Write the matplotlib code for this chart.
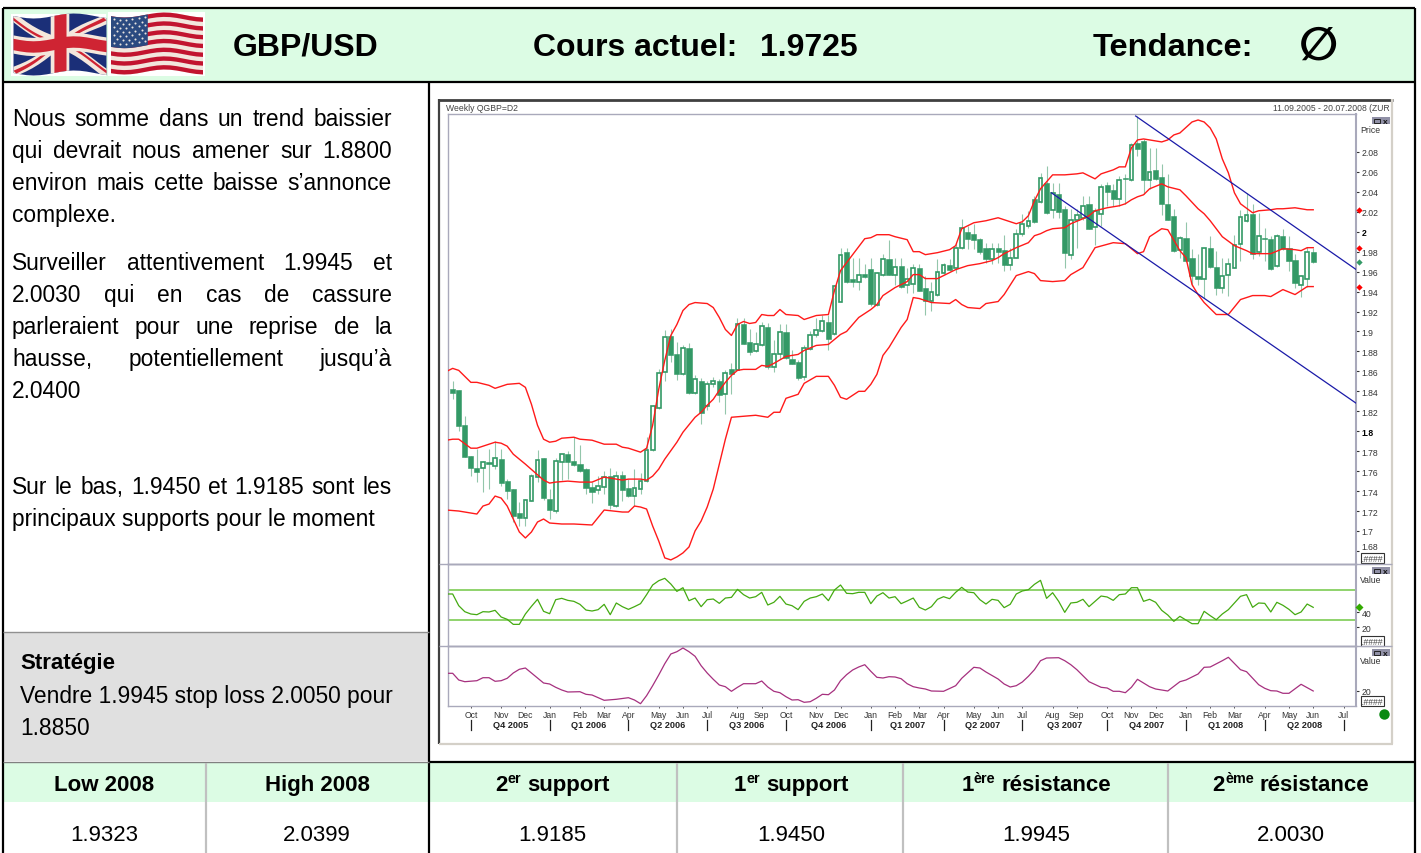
import matplotlib
matplotlib.use('Agg')
import matplotlib.pyplot as plt
from matplotlib.patches import Polygon, Rectangle
import numpy as np

plt.rcParams['font.family'] = ['Liberation Sans', 'DejaVu Sans']

W, H = 1421, 854

# Weekly candles, 11.09.2005 - 20.07.2008
opens = [
    1.842, 1.841, 1.806, 1.775, 1.763, 1.763, 1.769, 1.765, 1.772, 1.750,
    1.742, 1.718, 1.713, 1.730, 1.754, 1.773, 1.732, 1.720, 1.769, 1.777,
    1.770, 1.767, 1.762, 1.744, 1.741, 1.744, 1.755, 1.725, 1.756, 1.743,
    1.735, 1.742, 1.750, 1.781, 1.823, 1.859, 1.895, 1.877, 1.857, 1.883,
    1.838, 1.850, 1.825, 1.847, 1.850, 1.837, 1.862, 1.861, 1.907, 1.889,
    1.880, 1.886, 1.904, 1.864, 1.877, 1.899, 1.872, 1.869, 1.854, 1.882,
    1.896, 1.900, 1.909, 1.897, 1.930, 1.980, 1.953, 1.950, 1.958, 1.963,
    1.927, 1.957, 1.973, 1.957, 1.966, 1.947, 1.948, 1.964, 1.944, 1.931,
    1.937, 1.959, 1.967, 1.964, 1.984, 2.000, 1.998, 1.993, 1.984, 1.973,
    1.984, 1.982, 1.967, 1.974, 1.998, 2.006, 2.033, 2.030, 2.049, 2.022,
    2.038, 2.023, 1.977, 2.012, 2.014, 2.028, 2.005, 2.018, 2.047, 2.042,
    2.033, 2.054, 2.052, 2.089, 2.091, 2.052, 2.062, 2.055, 2.028, 2.016,
    1.982, 1.994, 1.974, 1.956, 1.953, 1.984, 1.965, 1.944, 1.957, 1.964,
    1.988, 2.011, 2.018, 1.980, 1.994, 1.993, 1.966, 1.996, 1.984, 1.972,
    1.947, 1.953, 1.980]
closes = [
    1.838, 1.805, 1.774, 1.763, 1.759, 1.769, 1.767, 1.773, 1.748, 1.740,
    1.715, 1.713, 1.731, 1.755, 1.771, 1.733, 1.721, 1.770, 1.777, 1.769,
    1.766, 1.760, 1.743, 1.739, 1.745, 1.754, 1.726, 1.755, 1.741, 1.735,
    1.743, 1.750, 1.781, 1.825, 1.858, 1.894, 1.876, 1.857, 1.883, 1.838,
    1.852, 1.818, 1.847, 1.850, 1.836, 1.858, 1.857, 1.907, 1.887, 1.879,
    1.887, 1.905, 1.864, 1.877, 1.899, 1.873, 1.867, 1.853, 1.883, 1.896,
    1.901, 1.910, 1.892, 1.946, 1.977, 1.950, 1.950, 1.957, 1.955, 1.928,
    1.959, 1.973, 1.957, 1.965, 1.945, 1.953, 1.964, 1.941, 1.931, 1.940,
    1.960, 1.967, 1.962, 1.984, 2.004, 1.993, 1.992, 1.980, 1.973, 1.983,
    1.980, 1.967, 1.974, 1.998, 2.008, 2.011, 2.010, 2.054, 2.019, 2.039,
    2.020, 1.979, 2.012, 2.017, 2.026, 2.003, 2.021, 2.045, 2.040, 2.033,
    2.052, 2.053, 2.087, 2.083, 2.052, 2.060, 2.053, 2.028, 2.012, 1.981,
    1.994, 1.971, 1.956, 1.953, 1.984, 1.965, 1.944, 1.956, 1.968, 1.987,
    2.015, 2.017, 1.978, 1.996, 1.993, 1.963, 1.996, 1.983, 1.971, 1.949,
    1.956, 1.980, 1.970]
highs = [
    1.850, 1.841, 1.815, 1.775, 1.782, 1.770, 1.782, 1.790, 1.782, 1.752,
    1.742, 1.729, 1.732, 1.757, 1.781, 1.773, 1.742, 1.773, 1.777, 1.780,
    1.794, 1.786, 1.763, 1.749, 1.755, 1.760, 1.763, 1.760, 1.760, 1.752,
    1.762, 1.758, 1.794, 1.826, 1.862, 1.901, 1.902, 1.889, 1.886, 1.888,
    1.856, 1.853, 1.850, 1.854, 1.852, 1.861, 1.868, 1.913, 1.914, 1.902,
    1.899, 1.909, 1.908, 1.891, 1.907, 1.907, 1.881, 1.871, 1.886, 1.900,
    1.914, 1.917, 1.917, 1.947, 1.984, 1.984, 1.974, 1.974, 1.968, 1.974,
    1.960, 1.978, 1.992, 1.974, 1.974, 1.964, 1.968, 1.968, 1.956, 1.950,
    1.973, 1.969, 1.973, 1.989, 2.013, 2.006, 2.008, 1.994, 1.989, 1.989,
    1.989, 1.997, 1.984, 2.003, 2.018, 2.021, 2.036, 2.059, 2.066, 2.049,
    2.049, 2.026, 2.023, 2.023, 2.036, 2.036, 2.024, 2.048, 2.050, 2.048,
    2.056, 2.058, 2.089, 2.116, 2.093, 2.084, 2.084, 2.068, 2.058, 2.023,
    1.996, 2.010, 1.983, 1.978, 1.984, 1.996, 1.981, 1.974, 1.974, 1.997,
    2.022, 2.039, 2.028, 2.019, 2.004, 1.996, 1.998, 2.003, 1.996, 1.978,
    1.957, 1.985, 1.984]
lows = [
    1.832, 1.800, 1.774, 1.755, 1.749, 1.739, 1.742, 1.762, 1.745, 1.732,
    1.709, 1.705, 1.705, 1.730, 1.749, 1.731, 1.712, 1.718, 1.751, 1.752,
    1.765, 1.759, 1.737, 1.728, 1.737, 1.737, 1.722, 1.724, 1.730, 1.734,
    1.725, 1.737, 1.749, 1.780, 1.822, 1.850, 1.869, 1.851, 1.856, 1.837,
    1.837, 1.807, 1.821, 1.844, 1.829, 1.817, 1.837, 1.861, 1.887, 1.876,
    1.879, 1.885, 1.862, 1.859, 1.872, 1.872, 1.867, 1.851, 1.851, 1.881,
    1.894, 1.899, 1.881, 1.896, 1.930, 1.949, 1.945, 1.942, 1.954, 1.926,
    1.926, 1.956, 1.957, 1.947, 1.944, 1.939, 1.939, 1.941, 1.917, 1.921,
    1.936, 1.958, 1.961, 1.959, 1.983, 1.983, 1.983, 1.978, 1.969, 1.968,
    1.969, 1.961, 1.962, 1.974, 1.996, 2.004, 2.009, 2.029, 2.018, 2.014,
    2.014, 1.964, 1.973, 1.984, 2.012, 2.003, 1.987, 2.006, 2.026, 2.026,
    2.026, 2.028, 2.051, 2.076, 2.038, 2.043, 2.052, 2.017, 2.012, 1.980,
    1.974, 1.970, 1.946, 1.947, 1.934, 1.964, 1.937, 1.939, 1.936, 1.964,
    1.971, 2.010, 1.973, 1.976, 1.971, 1.962, 1.965, 1.982, 1.961, 1.944,
    1.935, 1.945, 1.969]

# Bollinger bands, read at their visible corners (week index, price)
upper_x = [-1, 0, 1, 3, 4, 6, 7, 9, 11, 12, 13, 14, 15, 16, 17, 18, 20, 21, 23, 25,
           27, 28, 29, 31, 32, 33, 34, 35, 36, 37, 38, 39, 40, 42, 43, 44, 45, 46,
           47, 48, 49, 50, 51, 52, 53, 54, 55, 57, 58, 60, 62, 63, 64, 65, 68, 69,
           70, 72, 73, 75, 76, 77, 78, 80, 82, 83, 84, 86, 87, 88, 90, 91, 93, 94,
           95, 96, 97, 98, 99, 101, 103, 104, 106, 107, 109, 110, 111, 112, 113,
           114, 116, 117, 118, 119, 120, 122, 123, 124, 125, 126, 127, 128, 129,
           130, 132, 133, 135, 136, 137, 139, 141, 142]
upper = [1.860, 1.863, 1.861, 1.849, 1.849, 1.846, 1.843, 1.847, 1.848, 1.844,
         1.827, 1.806, 1.792, 1.789, 1.790, 1.793, 1.794, 1.792, 1.791, 1.787,
         1.787, 1.784, 1.783, 1.779, 1.783, 1.806, 1.842, 1.871, 1.896, 1.907,
         1.921, 1.927, 1.929, 1.928, 1.924, 1.914, 1.902, 1.896, 1.907, 1.910,
         1.908, 1.909, 1.917, 1.916, 1.916, 1.922, 1.917, 1.916, 1.912, 1.916,
         1.917, 1.941, 1.961, 1.969, 1.993, 1.994, 1.997, 1.997, 1.995, 1.992,
         1.980, 1.980, 1.977, 1.979, 1.982, 1.986, 2.003, 2.009, 2.010, 2.011,
         2.014, 2.012, 2.008, 2.010, 2.016, 2.031, 2.043, 2.050, 2.057, 2.057,
         2.058, 2.059, 2.053, 2.058, 2.062, 2.065, 2.065, 2.084, 2.092, 2.093,
         2.091, 2.090, 2.092, 2.097, 2.099, 2.110, 2.112, 2.110, 2.104, 2.093,
         2.073, 2.059, 2.039, 2.028, 2.019, 2.021, 2.022, 2.023, 2.023, 2.024,
         2.022, 2.022]
middle_x = [-1, 0, 1, 3, 4, 5, 7, 8, 9, 10, 12, 15, 16, 17, 19, 21, 23, 25, 26, 28,
            29, 31, 32, 33, 34, 35, 37, 38, 40, 41, 42, 43, 44, 45, 46, 47, 48, 50,
            51, 52, 53, 55, 57, 58, 60, 62, 63, 64, 65, 67, 69, 70, 71, 73, 75, 76,
            77, 78, 80, 81, 83, 85, 87, 89, 90, 91, 93, 95, 96, 97, 98, 99, 101, 102,
            104, 105, 106, 108, 110, 111, 112, 113, 114, 115, 117, 118, 120, 121,
            123, 124, 125, 126, 127, 129, 131, 132, 134, 135, 137, 139, 140, 141, 142]
middle = [1.791, 1.792, 1.792, 1.783, 1.783, 1.785, 1.789, 1.788, 1.785, 1.777,
          1.767, 1.751, 1.748, 1.749, 1.750, 1.749, 1.749, 1.754, 1.753, 1.751,
          1.752, 1.752, 1.751, 1.755, 1.762, 1.772, 1.789, 1.799, 1.814, 1.819,
          1.826, 1.832, 1.841, 1.849, 1.856, 1.861, 1.862, 1.862, 1.866, 1.865,
          1.868, 1.875, 1.877, 1.881, 1.886, 1.887, 1.892, 1.897, 1.900, 1.914,
          1.922, 1.927, 1.936, 1.944, 1.950, 1.957, 1.957, 1.953, 1.953, 1.956,
          1.962, 1.966, 1.968, 1.971, 1.974, 1.978, 1.984, 1.989, 1.996, 1.998,
          2.001, 2.003, 2.004, 2.008, 2.013, 2.016, 2.021, 2.024, 2.026, 2.028,
          2.032, 2.035, 2.037, 2.043, 2.048, 2.045, 2.042, 2.036, 2.023, 2.018,
          2.011, 2.003, 1.995, 1.986, 1.981, 1.978, 1.978, 1.978, 1.983, 1.982,
          1.981, 1.984, 1.984]
lower_x = [-1, 1, 3, 4, 5, 6, 7, 8, 9, 10, 11, 12, 13, 14, 15, 16, 18, 20, 23, 25,
           28, 29, 30, 31, 32, 33, 34, 35, 36, 37, 38, 39, 40, 41, 42, 43, 44, 45,
           46, 48, 50, 52, 53, 54, 55, 57, 58, 60, 62, 63, 64, 65, 67, 68, 69, 70,
           71, 72, 74, 75, 76, 77, 79, 82, 83, 84, 85, 87, 88, 90, 91, 93, 95, 96,
           97, 99, 101, 102, 104, 106, 109, 111, 112, 113, 114, 115, 117, 118, 120,
           121, 122, 123, 124, 126, 128, 130, 132, 134, 135, 137, 139, 141, 142]
lower = [1.721, 1.720, 1.718, 1.717, 1.725, 1.727, 1.735, 1.733, 1.725, 1.712,
         1.699, 1.693, 1.699, 1.709, 1.712, 1.708, 1.707, 1.707, 1.706, 1.721,
         1.719, 1.719, 1.725, 1.724, 1.722, 1.705, 1.690, 1.673, 1.671, 1.674,
         1.678, 1.684, 1.700, 1.710, 1.724, 1.742, 1.767, 1.792, 1.814, 1.815,
         1.816, 1.814, 1.819, 1.819, 1.833, 1.837, 1.848, 1.855, 1.855, 1.846,
         1.834, 1.832, 1.840, 1.840, 1.847, 1.857, 1.876, 1.884, 1.904, 1.912,
         1.934, 1.933, 1.929, 1.928, 1.932, 1.927, 1.924, 1.923, 1.928, 1.930,
         1.937, 1.956, 1.960, 1.958, 1.951, 1.950, 1.951, 1.957, 1.964, 1.984,
         1.989, 1.988, 1.983, 1.978, 1.980, 1.995, 2.003, 2.002, 1.981, 1.974,
         1.947, 1.937, 1.929, 1.917, 1.917, 1.932, 1.936, 1.936, 1.935, 1.942,
         1.937, 1.945, 1.945]

# Channel drawn by hand on the chart
channel_top_x = [112.7, 149.1]
channel_top = [2.116, 1.962]
channel_bottom_x = [98.8, 149.1]
channel_bottom = [2.039, 1.828]

# RSI, one value a week, starting one week before the first candle
rsi = [64.3, 64.3, 48.7, 40.7, 37.6, 36.7, 40.7, 40.3, 42.5, 33.6, 30.5, 23.8, 23.8,
       37.6, 47.8, 57.2, 41.2, 38.0, 56.7, 58.5, 55.8, 54.5, 50.5, 42.9, 41.6, 43.4,
       50.5, 36.7, 52.3, 47.4, 43.8, 47.4, 51.4, 63.4, 76.3, 82.0, 85.2, 77.6, 67.8,
       72.7, 55.4, 58.9, 47.4, 56.7, 57.6, 51.8, 58.9, 59.8, 70.5, 63.4, 58.9, 60.7,
       66.5, 49.6, 53.2, 61.2, 50.9, 48.7, 43.4, 54.5, 58.9, 60.7, 64.3, 55.4, 69.6,
       76.3, 65.2, 64.7, 66.5, 66.5, 51.4, 61.6, 66.0, 58.9, 60.7, 51.4, 55.0, 58.9,
       46.5, 42.9, 47.4, 57.2, 60.7, 58.0, 66.5, 73.2, 66.9, 66.0, 56.7, 50.9, 57.2,
       55.8, 46.1, 50.5, 64.3, 68.3, 70.0, 77.2, 82.5, 58.5, 66.0, 54.5, 39.8, 52.3,
       53.2, 57.2, 47.4, 54.5, 61.6, 60.3, 55.8, 63.4, 64.3, 72.7, 72.7, 54.5, 57.2,
       53.2, 42.5, 36.3, 27.8, 34.5, 29.6, 24.7, 24.7, 41.2, 35.4, 30.0, 37.6, 43.4,
       52.3, 61.2, 63.4, 46.5, 52.3, 51.8, 40.3, 53.2, 49.2, 43.8, 36.7, 40.3, 50.9,
       46.5]
rsi_levels = [70, 30]

# Lower indicator, read at its corners
stoch_x = [-1, 0, 1, 2, 4, 5, 6, 7, 8, 9, 10, 11, 12, 13, 15, 16, 17, 18, 19, 21, 22,
           23, 25, 27, 29, 30, 31, 32, 33, 34, 35, 36, 37, 38, 39, 40, 41, 42, 43, 44,
           45, 46, 47, 48, 50, 51, 52, 53, 54, 55, 56, 57, 58, 59, 60, 61, 62, 63, 64,
           65, 66, 67, 68, 69, 70, 71, 72, 73, 74, 75, 76, 77, 78, 79, 81, 83, 84, 86,
           87, 88, 90, 91, 92, 93, 94, 95, 96, 97, 98, 100, 101, 102, 103, 105, 107,
           108, 109, 110, 111, 112, 113, 114, 115, 116, 118, 120, 121, 123, 124, 125,
           127, 128, 130, 131, 133, 134, 135, 136, 137, 138, 140, 142]
stoch = [37.4, 37.4, 30.7, 29.0, 30.0, 33.0, 33.0, 29.4, 30.0, 32.4, 37.7, 41.4, 42.7,
         37.7, 27.7, 26.7, 23.4, 20.7, 18.7, 19.0, 16.4, 15.7, 10.4, 11.4, 13.0, 10.7,
         7.0, 15.0, 25.0, 35.7, 47.0, 56.7, 59.0, 62.7, 59.0, 54.4, 45.0, 37.7, 31.4,
         25.7, 24.0, 19.4, 23.4, 27.0, 27.0, 29.7, 23.7, 19.4, 18.0, 14.0, 10.7, 11.0,
         8.4, 9.0, 12.4, 16.4, 16.0, 20.7, 30.0, 36.0, 40.7, 43.7, 46.0, 39.4, 33.4,
         32.7, 34.0, 33.7, 32.0, 27.0, 24.0, 22.7, 21.7, 19.7, 19.4, 25.0, 32.4, 43.4,
         42.7, 38.7, 31.7, 26.7, 23.7, 25.0, 28.7, 34.4, 41.0, 50.0, 52.7, 53.0, 50.0,
         46.0, 41.0, 29.0, 23.4, 22.7, 19.4, 19.4, 18.0, 23.4, 31.4, 27.7, 24.0, 21.7,
         19.7, 29.0, 30.7, 36.7, 43.4, 43.7, 50.0, 53.4, 41.0, 39.0, 26.0, 22.4, 20.0,
         19.7, 17.4, 17.4, 26.4, 19.7]

price_ticks = [2.08, 2.06, 2.04, 2.02, 2.0, 1.98, 1.96, 1.94, 1.92, 1.9, 1.88, 1.86, 1.84,
               1.82, 1.8, 1.78, 1.76, 1.74, 1.72, 1.7, 1.68]
price_labels = ['2.08', '2.06', '2.04', '2.02', '2', '1.98', '1.96', '1.94', '1.92', '1.9',
                '1.88', '1.86', '1.84', '1.82', '1.8', '1.78', '1.76', '1.74', '1.72',
                '1.7', '1.68']
month_weeks = [3, 8, 12, 16, 21, 25, 29, 34, 38, 42, 47, 51, 55, 60, 64, 69, 73, 77, 81, 86,
               90, 94, 99, 103, 108, 112, 116, 121, 125, 129, 134, 138, 142, 147]
month_labels = ['Oct', 'Nov', 'Dec', 'Jan', 'Feb', 'Mar', 'Apr', 'May', 'Jun', 'Jul', 'Aug',
                'Sep', 'Oct', 'Nov', 'Dec', 'Jan', 'Feb', 'Mar', 'Apr', 'May', 'Jun', 'Jul',
                'Aug', 'Sep', 'Oct', 'Nov', 'Dec', 'Jan', 'Feb', 'Mar', 'Apr', 'May', 'Jun',
                'Jul']
quarter_weeks = [3, 16, 29, 42, 55, 69, 81, 94, 108, 121, 134, 147]
quarter_labels = ['Q4 2005', 'Q1 2006', 'Q2 2006', 'Q3 2006', 'Q4 2006', 'Q1 2007', 'Q2 2007',
                  'Q3 2007', 'Q4 2007', 'Q1 2008', 'Q2 2008']

# Text of the sheet
comment_lines = [
    ('Nous somme dans un trend baissier', 118, True),
    ('qui devrait nous amener sur 1.8800', 150, True),
    ('environ mais cette baisse s’annonce', 182, True),
    ('complexe.', 214, False),
    ('Surveiller attentivement 1.9945 et', 262, True),
    ('2.0030 qui en cas de cassure', 294, True),
    ('parleraient pour une reprise de la', 326, True),
    ('hausse, potentiellement jusqu’à', 358, True),
    ('2.0400', 390, False),
    ('Sur le bas, 1.9450 et 1.9185 sont les', 486, True),
    ('principaux supports pour le moment', 518, False),
]
levels_low_high = [('Low 2008', '1.9323', 104), ('High 2008', '2.0399', 317)]
level_values = [('2', 'er', 'support', '1.9185', 552), ('1', 'er', 'support', '1.9450', 791),
                ('1', 'ère', 'résistance', '1.9945', 1036), ('2', 'ème', 'résistance', '2.0030', 1291)]

CANDLE = '#339966'
WICK = '#93c6ab'
FRAME = '#a9a9bb'
GREEN_BG = '#dcfce4'
BODY_SIZE = 16.4
SMALL = 6.2

fig = plt.figure(figsize=(W / 100, H / 100), dpi=100, facecolor='white')
renderer = fig.canvas.get_renderer()

# Whole sheet drawn in pixel coordinates
bg = fig.add_axes([0, 0, 1, 1])
bg.set_xlim(0, W)
bg.set_ylim(H, 0)
bg.axis('off')


def hline(y, x0, x1, color='black', lw=1.6):
    bg.plot([x0, x1], [y, y], color=color, lw=lw, solid_capstyle='butt')


def vline(x, y0, y1, color='black', lw=1.6):
    bg.plot([x, x], [y0, y1], color=color, lw=lw, solid_capstyle='butt')


def put(x, y, s, size=BODY_SIZE, weight='normal', ha='left', color='black', **kw):
    return bg.text(x, y, s, fontsize=size, fontweight=weight, ha=ha, va='baseline', color=color, **kw)


def width_of(s, size, weight='normal'):
    t = bg.text(0, 0, s, fontsize=size, fontweight=weight)
    w = t.get_window_extent(renderer).width
    t.remove()
    return w


def justified(line, x0, x1, y, size=BODY_SIZE):
    words = line.split()
    widths = [width_of(w, size) for w in words]
    gap = (x1 - x0 - sum(widths)) / (len(words) - 1)
    x = x0
    for w, wd in zip(words, widths):
        put(x, y, w, size)
        x += wd + gap


def ordinal_header(num, sup, word, xc, y, size=16):
    nw = width_of(num, size, 'bold')
    sw = width_of(sup, size * 0.65, 'bold')
    ww = width_of(word, size, 'bold')
    gap = 6
    x = xc - (nw + sw + gap + ww) / 2
    put(x, y, num, size, 'bold')
    put(x + nw, y - 8, sup, size * 0.65, 'bold')
    put(x + nw + sw + gap, y, word, size, 'bold')


def wave_poly(pts, x0, y0, w, h, color, amp=2.5, phase=0.0):
    # subdivide the edges so the flag cloth ripples
    pts = np.array(pts + pts[:1], dtype=float)
    dense = []
    for a, b in zip(pts[:-1], pts[1:]):
        for t in np.linspace(0, 1, 14, endpoint=False):
            dense.append(a + (b - a) * t)
    dense = np.array(dense)
    px = x0 + dense[:, 0] * w
    py = y0 + dense[:, 1] * h + amp * np.sin(2 * np.pi * 1.15 * dense[:, 0] + phase)
    bg.add_patch(Polygon(np.column_stack([px, py]), closed=True, fc=color, ec='none', zorder=3))


def union_jack(x0, y0, w, h):
    kw = dict(x0=x0, y0=y0, w=w, h=h)
    navy, cream, red = '#1b2f78', '#f4e7dc', '#cf2433'
    wave_poly([(0, 0), (1, 0), (1, 1), (0, 1)], color=navy, **kw)
    for p in ([(0, 0), (.07, 0), (1, .89), (1, 1), (.93, 1), (0, .11)],
              [(1, 0), (1, .11), (.07, 1), (0, 1), (0, .89), (.93, 0)]):
        wave_poly(p, color=cream, **kw)
    for p in ([(0, .03), (.36, .37), (.31, .37), (0, .08)],
              [(1, .97), (.64, .63), (.69, .63), (1, .92)],
              [(.97, 0), (.63, .37), (.68, .37), (1, .04)],
              [(.03, 1), (.37, .63), (.32, .63), (0, .96)]):
        wave_poly(p, color=red, **kw)
    wave_poly([(.4, 0), (.6, 0), (.6, 1), (.4, 1)], color=cream, **kw)
    wave_poly([(0, .34), (1, .34), (1, .66), (0, .66)], color=cream, **kw)
    wave_poly([(.44, 0), (.57, 0), (.57, 1), (.44, 1)], color=red, **kw)
    wave_poly([(0, .4), (1, .4), (1, .6), (0, .6)], color=red, **kw)


def stars_stripes(x0, y0, w, h):
    kw = dict(x0=x0, y0=y0, w=w, h=h, phase=0.5)
    wave_poly([(0, 0), (1, 0), (1, 1), (0, 1)], color='#f2e6dd', **kw)
    for k in range(0, 13, 2):
        wave_poly([(0, k / 13), (1, k / 13), (1, (k + 1) / 13), (0, (k + 1) / 13)], color='#c2142f', **kw)
    wave_poly([(0, 0), (.4, 0), (.4, 7 / 13), (0, 7 / 13)], color='#2b4a80', **kw)
    sx, sy = [], []
    for r in range(7):
        for c in range(6 - r % 2):
            u = .035 + c * .066 + (r % 2) * .033
            v = .04 + r * .07
            sx.append(x0 + u * w)
            sy.append(y0 + v * h + 2.5 * np.sin(2 * np.pi * 1.15 * u + .5))
    bg.scatter(sx, sy, s=2.2, c='#e8e4e0', lw=0, zorder=4)


# Coloured bands
bg.add_patch(Rectangle((3, 9), 1412, 73, fc=GREEN_BG, ec='none'))
bg.add_patch(Rectangle((3, 633), 426, 129, fc='#e0e0e0', ec='none'))
bg.add_patch(Rectangle((3, 763), 1412, 40, fc=GREEN_BG, ec='none'))

# Flags
bg.add_patch(Rectangle((11, 15), 95, 62, fc='white', ec='none', zorder=2))
bg.add_patch(Rectangle((108, 13), 97, 64, fc='white', ec='none', zorder=2))
union_jack(13.5, 17, 93, 57)
stars_stripes(111, 16, 92, 57)

# Table rules
hline(9, 3, 1415)
hline(82.5, 3, 1415)
vline(3, 9, H)
vline(1415, 9, H)
vline(429, 82, H)
hline(762.7, 429, 1415)
hline(762.5, 3, 429, '#808080', 1)
hline(632.7, 3, 429, '#909090', 1)
for x in [206, 677, 903, 1168]:
    vline(x, 764, H, '#c0c0c0', 1.6)

# Header
put(233, 56, 'GBP/USD', 23, 'bold')
put(533, 56, 'Cours actuel:', 23, 'bold')
put(760, 56, '1.9725', 23, 'bold')
put(1093, 56, 'Tendance:', 23.4, 'bold')
bg.text(1318, 47, '∅', fontsize=33, family='DejaVu Sans', fontweight='bold', ha='center', va='center')

# Comment text
for line, y, just in comment_lines:
    if just:
        justified(line, 12, 392, y + 8)
    else:
        put(12, y + 8, line)
put(20, 669, 'Stratégie', 16, 'bold')
put(20, 703, 'Vendre 1.9945 stop loss 2.0050 pour')
put(20, 735, '1.8850')

# Bottom table
for title, val, xc in levels_low_high:
    put(xc, 791, title, 16, 'bold', ha='center')
    put(xc, 841, val, 16, ha='center')
for num, sup, word, val, xc in level_values:
    ordinal_header(num, sup, word, xc, 791)
    put(xc, 841, val, 16, ha='center')

# Chart frame
bg.add_patch(Rectangle((439, 100), 953, 645, fc='white', ec='none'))
hline(100.5, 438, 1393, '#404040', 2)
vline(439, 100, 745, '#404040', 1.6)
hline(745, 439, 1393, '#d4d0c8', 1.6)
vline(1392, 100, 745, '#d4d0c8', 1.6)
hline(565, 439, 1392, FRAME, 1)
hline(647, 439, 1392, FRAME, 1)
put(446, 111, 'Weekly QGBP=D2', SMALL, color='#444444',
    clip_path=Rectangle((440, 100), 74, 14, transform=bg.transData))
put(1390, 111, '11.09.2005 - 20.07.2008 (ZUR', SMALL, ha='right', color='#444444')

# Window buttons and value boxes of the chart software
for y in (118, 568, 650):
    bg.add_patch(Rectangle((1372, y), 18, 7, fc='#9090a6', ec='none'))
    bg.add_patch(Rectangle((1373.5, y + 1.5), 6, 4, fc='none', ec='#222222', lw=0.7))
    put(1385, y + 6, 'x', 6, 'bold', ha='center', color='#111111')
for y, lab in ((133, 'Price'), (583, 'Value'), (664, 'Value')):
    put(1360, y, lab, SMALL, color='#333333')
for y in (554, 637, 697):
    bg.add_patch(Rectangle((1361, y), 23, 10, fc='white', ec='#333333', lw=0.8))
    put(1372.5, y + 8.5, '.####', SMALL, ha='center', color='#444444', style='italic')
bg.plot([1384], [715], 'o', color='#0a8a12', ms=7.5, mec='none')


def panel(top, bottom, ylim):
    ax = fig.add_axes([448 / W, 1 - bottom / H, (1356 - 448) / W, (bottom - top) / H])
    ax.set_facecolor('none')
    ax.set_xlim(-0.77, 149.06)
    ax.set_ylim(*ylim)
    ax.yaxis.tick_right()
    ax.tick_params(axis='y', length=2.2, width=0.8, pad=2.0, labelsize=SMALL,
                   color='#333333', labelcolor='#333333')
    ax.set_xticks([])
    for s in ax.spines.values():
        s.set_color(FRAME)
        s.set_linewidth(1)
    ax.spines['right'].set_linewidth(1.5)
    return ax


# Price panel
ax1 = panel(114.5, 565, (1.6669, 2.1185))
weeks = np.arange(len(closes))
ax1.vlines(weeks, lows, highs, color=WICK, lw=0.8, zorder=2)
o = np.array(opens)
c = np.array(closes)
down = c <= o
up = ~down
ax1.bar(weeks[down], (o - c)[down], bottom=c[down], width=0.85, color=CANDLE,
        edgecolor=CANDLE, lw=0.4, zorder=3)
ax1.bar(weeks[up], (c - o)[up], bottom=o[up], width=0.62, color='white',
        edgecolor=CANDLE, lw=1.2, zorder=3)
for xs, ys in ((upper_x, upper), (middle_x, middle), (lower_x, lower)):
    ax1.plot(xs, ys, color='#ff1a1a', lw=1.0, zorder=4)
ax1.plot(channel_top_x, channel_top, color='#1a1aa8', lw=0.9, zorder=5)
ax1.plot(channel_bottom_x, channel_bottom, color='#1a1aa8', lw=0.9, zorder=5)
ax1.set_yticks(price_ticks)
ax1.set_yticklabels(price_labels)
for lab, txt in zip(ax1.get_yticklabels(), price_labels):
    if txt in ('2', '1.8'):
        lab.set_fontweight('bold')
        lab.set_color('black')
    if txt == '1.68':
        lab.set_verticalalignment('bottom')
mark_x = 149.6
ax1.plot([mark_x] * 3, [upper[-1], middle[-1], lower[-1]], 'D', color='#ff0000', ms=3.2,
         mec='none', clip_on=False, zorder=6)
ax1.plot([mark_x], [closes[-1]], 'D', color='#339966', ms=3.2, mec='none', clip_on=False, zorder=6)

# RSI panel
ax2 = panel(565, 647, (-5.07, 104.3))
ax2.plot(np.arange(len(rsi)) - 1, rsi, color='#44aa11', lw=0.9, zorder=3)
for lev in rsi_levels:
    ax2.axhline(lev, color='#8fd36c', lw=1.4, zorder=2)
ax2.set_yticks([40, 20])
ax2.set_yticklabels(['40', '20'])
ax2.plot([mark_x], [rsi[-1]], 'D', color='#33aa00', ms=3.6, mec='none', clip_on=False, zorder=6)

# Lower indicator panel, carries the time axis
ax3 = panel(647, 707, (4.7, 64.7))
ax3.plot(stoch_x, stoch, color='#a6307f', lw=0.9, zorder=3)
ax3.set_yticks([20])
ax3.set_yticklabels(['20'])
ax3.set_xticks(month_weeks)
ax3.set_xticklabels(month_labels)
ax3.tick_params(axis='x', length=1.2, width=0.6, pad=2.0, labelsize=SMALL, color='#333333',
                labelcolor='#333333')
tr = ax3.get_xaxis_transform()
for w in quarter_weeks:
    ax3.plot([w, w], [-14 / 60, -24 / 60], transform=tr, color='#222222', lw=0.9, clip_on=False)
for a, b, lab in zip(quarter_weeks[:-1], quarter_weeks[1:], quarter_labels):
    ax3.text((a + b) / 2, -19 / 60, lab, transform=tr, fontsize=6.6, fontweight='bold',
             ha='center', va='center', color='#222222')

fig.savefig('out.png', dpi=100, facecolor='white')
